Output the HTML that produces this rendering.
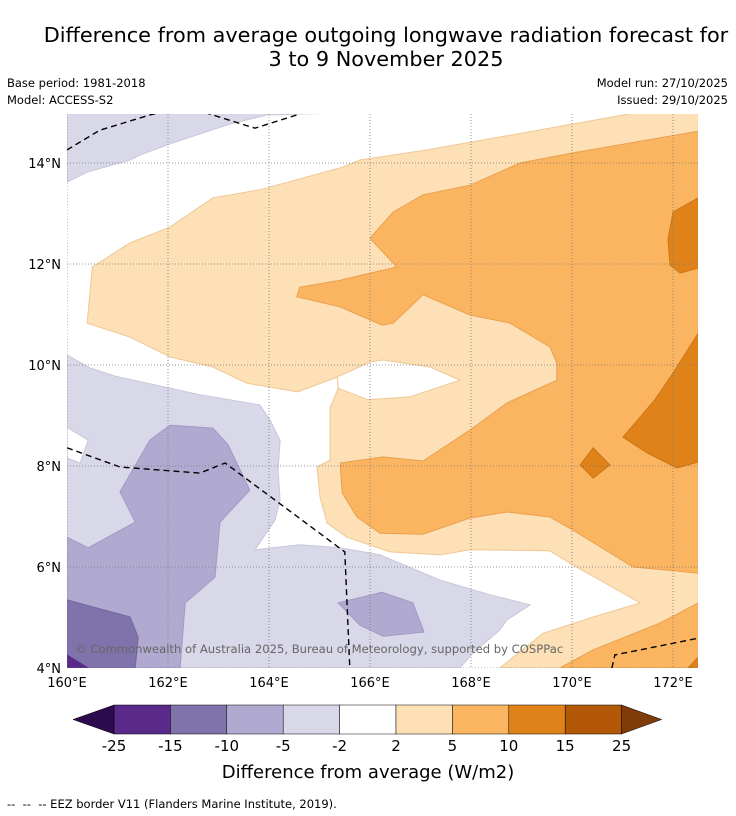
<!DOCTYPE html>
<html><head><meta charset="utf-8"><style>
body{margin:0;background:#fff;font-family:"DejaVu Sans","Liberation Sans",sans-serif;}
#wrap{position:relative;width:736px;height:816px;overflow:hidden;background:#fff}
.t{position:absolute;color:#000;white-space:nowrap}
</style></head><body>
<div id="wrap">
<div class="t" style="left:0;width:772px;top:23px;font-size:20.8px;text-align:center;line-height:24px">Difference from average outgoing longwave radiation forecast for<br>3 to 9 November 2025</div>
<div class="t" style="left:7px;top:76px;font-size:11.5px">Base period: 1981-2018</div>
<div class="t" style="left:7px;top:93px;font-size:11.5px">Model: ACCESS-S2</div>
<div class="t" style="right:8px;top:76px;font-size:11.5px">Model run: 27/10/2025</div>
<div class="t" style="right:8px;top:93px;font-size:11.5px">Issued: 29/10/2025</div>
<svg id="map" width="736" height="816" style="position:absolute;left:0;top:0" xmlns="http://www.w3.org/2000/svg"></svg>
<div class="t" style="left:7px;top:797px;font-size:11.5px">--&nbsp; --&nbsp; -- EEZ border V11 (Flanders Marine Institute, 2019).</div>
</div>
<script>
const lonTicks=[160,162,164,166,168,170,172];
const latTicks=[4,6,8,10,12,14];
const cbLevels=["-25","-15","-10","-5","-2","2","5","10","15","25"];
const cbColors=["#5a2a8a","#8073ac","#b0aad1","#d8d8e9","#ffffff","#fde0b6","#fbb560","#e0821a","#b35806"];
const cbLow="#2d0a4e", cbHigh="#7f3b08";
// contour polygons [lon,lat]
const lavTop=[[160,15],[165.8,15],[163.96,14.95],[163.29,14.79],[162.10,14.40],[161.45,14.16],[161.25,14.06],[160.40,13.82],[160,13.62]];
const orangeLight=[[172.5,15],[171.29,15],[169.11,14.61],[167.13,14.26],[165.8,14.06],[165.47,13.92],[163.82,13.47],[162.89,13.31],[162.04,12.73],[161.25,12.42],[160.50,11.94],[160.40,10.83],[161.25,10.55],[162.04,10.16],[162.89,9.96],[163.56,9.64],[164.57,9.47],[165.35,9.76],[165.37,9.54],[165.21,9.15],[165.21,8.12],[164.95,7.98],[165.01,7.39],[165.15,6.87],[165.54,6.59],[166.40,6.30],[167.39,6.24],[167.98,6.34],[169.56,6.32],[170.02,6.04],[171.35,5.29],[170.42,5.01],[169.43,4.69],[168.57,4],[172.5,4]];
const whitePocket=[[165.35,9.76],[166,10.06],[166.26,10.10],[167.19,9.96],[167.78,9.70],[166.79,9.37],[165.96,9.31],[165.37,9.54]];
const orangeMid=[[164.55,11.35],[164.61,11.54],[165.41,11.68],[166,11.82],[166.53,11.94],[166,12.51],[166.46,13.03],[167.05,13.37],[167.98,13.56],[168.97,14],[170.02,14.20],[172.5,14.63],[172.5,5.88],[171.21,6],[170.02,6.73],[169.56,6.99],[168.71,7.09],[167.98,6.97],[167.05,6.65],[166.20,6.67],[165.74,6.99],[165.45,7.47],[165.41,8.06],[166.26,8.18],[167.05,8.10],[167.98,8.71],[168.71,9.25],[169.70,9.70],[169.70,10.04],[169.56,10.36],[168.77,10.83],[167.98,10.99],[167.05,11.39],[166.46,10.83],[166.24,10.79],[165.41,11.15]];
const orangeMidBR=[[169.76,4],[170.42,4.36],[171.74,4.89],[172.5,5.29],[172.5,4]];
const darkTR=[[172,13.03],[172.5,13.31],[172.5,11.92],[172.14,11.82],[171.94,11.98],[171.90,12.48]];
const darkR=[[172.5,10.63],[172,9.84],[171.64,9.31],[171.01,8.57],[171.49,8.26],[172.08,7.96],[172.5,8.08]];
const darkDiamond=[[170.16,8.02],[170.42,8.36],[170.75,8.02],[170.42,7.76]];
const darkCorner=[[172.30,4],[172.5,4.22],[172.5,4]];
const lavLow=[[160,10.20],[160.46,9.94],[160.95,9.78],[162.63,9.41],[163.82,9.21],[164.02,8.91],[164.22,8.51],[164.18,7.92],[164.22,7.33],[164.12,6.93],[163.72,6.34],[164.61,6.44],[165.41,6.38],[166.20,6.24],[167.39,5.74],[168.38,5.45],[169.17,5.25],[168.71,4.95],[168.57,4.75],[168.04,4.30],[167.78,4],[160,4]];
const whiteNotch=[[160,8.77],[160.42,8.51],[160.26,8.06],[160,8.16]];
const lav2=[[160,6.59],[160.42,6.38],[161.35,6.89],[161.05,7.49],[161.64,8.51],[162.04,8.81],[162.89,8.75],[163.19,8.42],[163.62,7.52],[163.03,6.89],[162.93,5.80],[162.34,5.29],[162.24,4],[160,4]];
const lav2small=[[165.37,5.29],[166.24,5.50],[166.85,5.29],[167.07,4.71],[166.26,4.63],[165.80,4.85]];
const lav3=[[160,5.35],[161.25,5.01],[161.41,4.61],[161.35,4],[160,4]];
const lav4=[[160,4.26],[160.42,4],[160,4]];
const eezTop1=[[160,14.26],[160.65,14.65],[161.64,14.95],[161.94,15.02]];
const eezTop2=[[162.73,15],[163.72,14.69],[164.61,14.97]];
const eezLeft=[[160,8.36],[161.05,7.98],[162.63,7.86],[163.13,8.06],[165.50,6.30],[165.60,4]];
const eezBR=[[170.79,4],[170.85,4.26],[172.5,4.59]];

const X0=67,Y0=668,K=50.5;
const xs=lon=>X0+(lon-160)*K, ys=lat=>Y0-(lat-4)*K;
const NS="http://www.w3.org/2000/svg";
const FF='DejaVu Sans, Liberation Sans, sans-serif';
const svg=document.getElementById('map');
function mk(tag,attrs,parent){const e=document.createElementNS(NS,tag);for(const k in attrs)e.setAttribute(k,attrs[k]);(parent||svg).appendChild(e);return e;}
const defs=mk('defs',{});
const cp=mk('clipPath',{id:'clip'},defs);
mk('rect',{x:67,y:114,width:631,height:554},cp);
const g=mk('g',{'clip-path':'url(#clip)'});
const pts=a=>a.map(p=>xs(p[0]).toFixed(1)+','+ys(p[1]).toFixed(1)).join(' ');
function poly(a,fill,stroke,name){const e=mk('polygon',{points:pts(a),fill:fill,stroke:stroke,'stroke-width':1},g);

}
poly(lavTop,'#d8d8e9','#c8c8dc','contour-lavender-top');
poly(orangeLight,'#fde0b6','#efc795','contour-2-5');
poly(whitePocket,'#ffffff','#efc795','contour-white-pocket');
poly(orangeMid,'#fbb560','#e9a050','contour-5-10');
poly(orangeMidBR,'#fbb560','#e9a050','contour-5-10-br');
poly(darkTR,'#e0821a','#cc7514','contour-10-15-top');
poly(darkR,'#e0821a','#cc7514','contour-10-15-right');
poly(darkDiamond,'#e0821a','#cc7514','contour-10-15-diamond');
poly(darkCorner,'#e0821a','#cc7514','contour-10-15-corner');
poly(lavLow,'#d8d8e9','#c8c8dc','contour-minus2-5');
poly(whiteNotch,'#ffffff','#c8c8dc','contour-white-notch');
poly(lav2,'#b0aad1','#a09ac4','contour-minus5-10');
poly(lav2small,'#b0aad1','#a09ac4','contour-minus5-10-small');
poly(lav3,'#8073ac','#7467a0','contour-minus10-15');
poly(lav4,'#5a2a8a','#5a2a8a','contour-minus15-25');
[eezTop1,eezTop2,eezLeft,eezBR].forEach((a,i)=>{const e=mk('polyline',{points:pts(a),fill:'none',stroke:'#000','stroke-width':1.4,'stroke-dasharray':'6,4'},g);

});
lonTicks.forEach(l=>{const x=xs(l);mk('line',{x1:x,y1:114,x2:x,y2:668,stroke:'#777','stroke-width':0.8,'stroke-dasharray':'1,2'},g);
const t=mk('text',{x:x,y:687,'font-size':13,'text-anchor':'middle','font-family':FF});t.textContent=l+'°E';

});
latTicks.forEach(l=>{const y=ys(l);mk('line',{x1:67,y1:y,x2:698,y2:y,stroke:'#777','stroke-width':0.8,'stroke-dasharray':'1,2'},g);
const t=mk('text',{x:61,y:y+5,'font-size':13,'text-anchor':'end','font-family':FF});t.textContent=l+'°N';

});
const cr=mk('text',{x:75,y:653,'font-size':11.6,fill:'#666','font-family':FF});cr.textContent='© Commonwealth of Australia 2025, Bureau of Meteorology, supported by COSPPac';


// colorbar
const cbX0=114,cbW=56.4,cbY=705,cbH=29;
cbColors.forEach((c,i)=>{const r=mk('rect',{x:cbX0+i*cbW,y:cbY,width:cbW,height:cbH,fill:c,stroke:'#000','stroke-width':0.5});

});
const n=cbColors.length,cbX1=cbX0+n*cbW;
const tl=mk('polygon',{points:`${cbX0},${cbY} 73,${cbY+cbH/2} ${cbX0},${cbY+cbH}`,fill:cbLow,stroke:'#000','stroke-width':0.5});


const tr=mk('polygon',{points:`${cbX1},${cbY} ${cbX1+40},${cbY+cbH/2} ${cbX1},${cbY+cbH}`,fill:cbHigh,stroke:'#000','stroke-width':0.5});


cbLevels.forEach((s,i)=>{const t=mk('text',{x:cbX0+i*cbW,y:751,'font-size':15,'text-anchor':'middle','font-family':FF});t.textContent=s;

});
const cl=mk('text',{x:368,y:778,'font-size':18,'text-anchor':'middle','font-family':FF});cl.textContent='Difference from average (W/m2)';


</script>
</body></html>
